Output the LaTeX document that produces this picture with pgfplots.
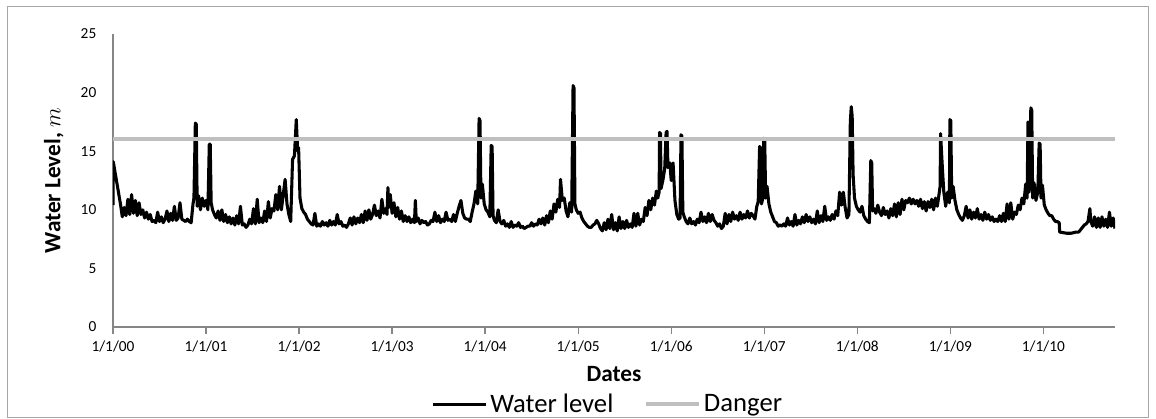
\documentclass[border=0pt]{standalone}
\usepackage{pgfplots}
\pgfplotsset{compat=1.18}
\usepackage{fontspec}
\setmainfont{Carlito}
\usetikzlibrary{calc}
\definecolor{axgray}{HTML}{868686}
\definecolor{dangergray}{HTML}{BFBFBF}
\definecolor{framegray}{HTML}{A6A6A6}

\pgfplotstableread{
yr lvl
0.000 10.4
0.003 14.1
0.08 10.5
0.10 9.4
0.12 10.2
0.14 9.5
0.16 10.9
0.18 9.6
0.20 11.3
0.22 9.7
0.24 10.8
0.26 9.5
0.28 10.6
0.30 9.6
0.32 10.0
0.34 9.3
0.36 9.8
0.38 9.2
0.40 9.6
0.42 9.0
0.44 9.1
0.46 8.9
0.48 9.8
0.50 9.0
0.52 9.4
0.54 8.9
0.56 9.2
0.58 9.9
0.60 9.0
0.62 9.7
0.64 9.1
0.66 10.3
0.68 9.1
0.70 9.3
0.72 10.6
0.74 9.2
0.76 9.1
0.78 9.0
0.80 9.2
0.82 9.0
0.84 8.9
0.86 10.5
0.87 11.0
0.885 17.4
0.895 17.3
0.905 10.3
0.92 11.2
0.94 10.0
0.96 11.0
0.98 10.3
1.00 10.8
1.02 10.0
1.035 15.6
1.045 15.6
1.055 10.6
1.07 10.0
1.09 9.6
1.11 9.3
1.13 9.9
1.15 9.1
1.17 10.0
1.19 9.0
1.21 9.6
1.23 8.9
1.25 9.4
1.27 8.8
1.29 9.3
1.31 8.7
1.33 9.5
1.35 8.8
1.37 10.3
1.39 8.7
1.41 8.8
1.43 8.5
1.45 8.7
1.47 9.2
1.49 8.8
1.51 10.1
1.53 8.8
1.55 10.9
1.57 8.9
1.59 9.3
1.61 8.9
1.63 9.9
1.65 9.0
1.67 10.7
1.69 9.3
1.71 10.1
1.73 9.9
1.75 11.3
1.77 10.0
1.79 12.0
1.81 10.0
1.83 11.3
1.85 12.6
1.87 10.5
1.89 9.6
1.91 9.0
1.93 14.3
1.95 14.6
1.97 17.7
1.985 15.0
1.995 15.3
2.01 11.0
2.03 10.1
2.05 9.8
2.07 9.6
2.09 9.2
2.11 9.0
2.13 8.8
2.15 8.7
2.17 9.7
2.19 8.6
2.21 8.8
2.23 8.6
2.25 9.0
2.27 8.7
2.29 8.9
2.31 8.6
2.33 9.1
2.35 8.7
2.37 9.0
2.39 8.7
2.41 9.6
2.43 8.8
2.45 9.0
2.47 8.6
2.49 8.7
2.51 8.5
2.53 8.8
2.55 9.3
2.57 8.7
2.59 9.4
2.61 8.8
2.63 9.3
2.65 8.9
2.67 9.6
2.69 8.9
2.71 9.9
2.73 9.1
2.75 10.0
2.77 9.2
2.79 9.6
2.81 10.4
2.83 9.5
2.85 9.9
2.87 9.3
2.89 10.9
2.91 9.7
2.93 10.1
2.945 9.6
2.955 11.9
2.965 10.2
2.98 11.3
3.00 9.7
3.02 10.6
3.04 9.4
3.06 10.2
3.08 9.2
3.10 9.9
3.12 9.0
3.14 9.5
3.16 9.0
3.18 9.4
3.20 8.9
3.22 9.2
3.24 8.9
3.25 10.8
3.26 9.0
3.28 9.3
3.30 8.8
3.32 9.1
3.34 8.9
3.36 9.0
3.38 8.7
3.40 8.8
3.42 9.1
3.44 9.0
3.46 9.8
3.48 9.0
3.50 9.5
3.52 8.9
3.54 9.2
3.56 9.0
3.58 9.8
3.60 9.1
3.62 9.2
3.64 9.0
3.66 9.6
3.68 9.0
3.70 9.7
3.72 10.3
3.74 10.8
3.76 9.7
3.78 9.3
3.80 9.2
3.82 9.2
3.84 9.0
3.86 9.8
3.88 10.5
3.90 11.6
3.92 10.5
3.935 17.8
3.945 17.6
3.955 11.0
3.97 12.2
3.99 10.5
4.01 10.0
4.03 9.8
4.05 9.4
4.065 15.5
4.075 15.4
4.085 9.5
4.10 9.1
4.12 8.9
4.14 10.0
4.16 9.0
4.18 8.8
4.20 9.1
4.22 8.6
4.24 8.8
4.26 8.5
4.28 9.0
4.30 8.5
4.32 8.7
4.34 8.6
4.36 8.9
4.38 8.5
4.40 8.6
4.42 8.4
4.44 8.5
4.46 8.6
4.48 8.6
4.50 8.9
4.52 8.6
4.54 8.8
4.56 8.7
4.58 9.2
4.60 8.8
4.62 9.3
4.64 8.7
4.66 9.5
4.68 8.9
4.70 9.9
4.72 9.2
4.74 10.5
4.76 9.8
4.78 10.9
4.80 10.2
4.81 12.6
4.83 10.8
4.85 11.0
4.87 9.9
4.89 9.4
4.91 10.6
4.93 9.8
4.945 20.6
4.955 20.4
4.965 10.5
4.98 10.0
5.00 9.7
5.02 9.8
5.04 9.3
5.06 9.0
5.08 8.8
5.10 8.6
5.12 8.5
5.14 8.5
5.16 8.7
5.18 8.8
5.20 9.1
5.22 8.8
5.24 8.4
5.26 8.2
5.28 8.9
5.30 8.3
5.32 9.2
5.34 8.4
5.36 9.6
5.38 8.3
5.40 8.9
5.42 8.2
5.44 9.4
5.46 8.4
5.48 9.0
5.50 8.4
5.52 9.1
5.54 8.5
5.56 8.8
5.58 8.5
5.60 9.7
5.62 8.6
5.64 9.7
5.66 8.7
5.68 9.2
5.70 9.0
5.72 10.2
5.74 9.5
5.76 10.8
5.78 10.0
5.80 11.0
5.82 10.4
5.84 11.6
5.855 11.0
5.87 11.5
5.875 16.6
5.885 16.5
5.89 11.8
5.91 12.5
5.93 13.5
5.945 16.6
5.955 16.7
5.965 13.6
5.985 14.0
6.00 12.5
6.02 14.0
6.04 10.8
6.06 9.6
6.08 9.2
6.095 9.3
6.105 16.4
6.115 16.3
6.125 9.8
6.14 9.4
6.16 9.0
6.18 8.8
6.20 9.3
6.22 8.8
6.24 9.0
6.26 8.7
6.28 9.2
6.30 8.9
6.32 9.8
6.34 9.0
6.36 9.4
6.38 8.9
6.40 9.7
6.42 9.0
6.44 9.6
6.46 9.1
6.48 8.9
6.50 8.6
6.52 8.8
6.54 8.4
6.56 8.6
6.58 9.7
6.60 8.8
6.62 9.6
6.64 9.0
6.66 9.8
6.68 9.2
6.70 9.5
6.72 9.1
6.74 9.8
6.76 9.2
6.78 9.6
6.80 9.3
6.82 9.9
6.84 9.3
6.86 9.7
6.88 9.5
6.90 9.2
6.92 10.3
6.935 10.7
6.95 15.4
6.96 15.3
6.97 10.5
6.985 11.0
6.995 16.1
7.005 16.0
7.015 11.0
7.03 12.0
7.05 10.5
7.07 9.8
7.09 9.4
7.11 9.0
7.13 8.9
7.15 8.6
7.17 8.7
7.19 8.6
7.21 8.8
7.23 8.6
7.25 9.3
7.27 8.7
7.29 9.0
7.31 8.6
7.33 9.6
7.35 8.7
7.37 9.1
7.39 8.8
7.41 9.4
7.43 8.9
7.45 9.6
7.47 9.0
7.49 9.4
7.51 8.9
7.53 9.2
7.55 8.8
7.57 9.9
7.59 8.9
7.61 9.5
7.63 9.0
7.65 10.3
7.67 9.1
7.69 9.4
7.71 9.1
7.73 9.6
7.75 9.2
7.77 9.9
7.79 9.5
7.81 11.5
7.83 10.4
7.85 11.5
7.87 10.2
7.89 9.3
7.91 9.6
7.925 17.5
7.935 18.8
7.945 18.0
7.955 13.0
7.97 11.0
7.99 10.3
8.01 10.0
8.03 9.8
8.05 10.3
8.07 9.5
8.09 9.2
8.11 9.0
8.13 8.9
8.145 14.2
8.155 14.0
8.165 9.9
8.18 10.1
8.20 9.7
8.22 10.4
8.24 9.8
8.26 9.5
8.28 10.2
8.30 9.6
8.32 9.9
8.34 9.3
8.36 10.1
8.38 9.5
8.40 10.5
8.42 9.4
8.44 10.6
8.46 9.6
8.48 10.9
8.50 10.0
8.52 10.8
8.54 10.6
8.56 11.0
8.58 10.5
8.60 10.9
8.62 10.5
8.64 10.8
8.66 10.3
8.68 10.9
8.70 10.1
8.72 10.7
8.74 9.9
8.76 10.7
8.78 10.2
8.80 10.9
8.82 10.0
8.84 11.0
8.86 10.3
8.88 11.4
8.89 12.0
8.895 16.5
8.905 15.0
8.915 13.5
8.93 11.5
8.95 10.3
8.97 11.5
8.99 10.6
8.995 17.7
9.005 17.6
9.015 11.0
9.03 12.0
9.05 10.8
9.07 10.0
9.09 9.6
9.11 9.3
9.13 9.1
9.15 9.5
9.17 10.3
9.19 9.3
9.21 10.0
9.23 9.2
9.25 9.8
9.27 9.3
9.29 10.1
9.31 9.2
9.33 9.6
9.35 9.1
9.37 9.8
9.39 9.2
9.41 9.6
9.43 9.1
9.45 9.4
9.47 9.0
9.49 9.2
9.51 9.0
9.53 9.5
9.55 9.0
9.57 9.7
9.59 9.0
9.61 10.5
9.63 9.2
9.65 10.6
9.67 9.2
9.69 9.8
9.71 9.6
9.73 10.4
9.75 10.0
9.77 11.0
9.79 10.5
9.81 12.2
9.825 11.0
9.835 17.5
9.845 11.5
9.855 12.0
9.865 18.7
9.875 18.5
9.885 11.0
9.90 12.3
9.92 10.8
9.94 11.5
9.955 15.7
9.965 15.6
9.975 11.0
9.99 12.1
10.01 10.4
10.03 10.0
10.05 9.7
10.07 9.5
10.09 9.5
10.11 9.2
10.13 9.0
10.15 9.0
10.17 8.9
10.175 8.1
10.25 8.0
10.30 8.0
10.35 8.1
10.38 8.1
10.40 8.3
10.42 8.5
10.44 8.7
10.46 8.8
10.48 9.0
10.50 10.1
10.51 9.0
10.53 8.6
10.55 9.4
10.57 8.5
10.59 9.3
10.61 8.5
10.63 9.4
10.65 8.6
10.67 9.2
10.69 8.5
10.71 9.8
10.73 8.6
10.75 9.3
10.77 8.4
}\waterlevel

\begin{document}
\begin{tikzpicture}
\begin{axis}[name=ax,scale only axis,width=751.5pt,height=219.75pt,
  xmin=0,xmax=10.77,ymin=0,ymax=25,
  axis x line=bottom,axis y line=left,
  axis line style={-,axgray,line width=1.2pt},
  xtick={0,1,2,3,4,5,6,7,8,9,10},
  xticklabels={1/1/00,1/1/01,1/1/02,1/1/03,1/1/04,1/1/05,1/1/06,1/1/07,1/1/08,1/1/09,1/1/10},
  ytick={0,5,10,15,20,25},
  tick align=outside,
  xtick style={axgray,line width=1pt},major tick length=5pt,
  ytick style={draw=none},
  /pgf/number format/assume math mode=true,
  tick label style={font=\fontsize{11.5}{13}\selectfont},
  yticklabel style={xshift=-4pt},
  xticklabel style={yshift=-2pt},
  xlabel={\textbf{Dates}},
  xlabel style={font=\fontsize{17.5}{19}\selectfont,at={(axis description cs:0.5,-0.16)},anchor=center},
  ylabel={\textbf{Water Level,} $m$},
  ylabel style={font=\fontsize{17.5}{19}\selectfont,at={(axis description cs:-0.059,0.5)},anchor=center},
  legend columns=2,
  legend style={draw=none,fill=none,font=\fontsize{20}{22}\selectfont,
    at={(0.494,-0.263)},anchor=center,
    /tikz/every even column/.append style={column sep=21pt}},
  legend image code/.code={\draw[#1] (0pt,0pt) -- (40pt,0pt);},
  ]
\addplot[black,line width=2.3pt,line join=round] table[x=yr,y=lvl] {\waterlevel};
\addplot[dangergray,line width=3pt] coordinates {(0,16) (10.77,16)};
\legend{Water level,Danger}
\end{axis}
\draw[framegray,line width=0.75pt] ($(ax.south west)+(-78.75pt,-67.5pt)$) rectangle ($(ax.north east)+(24.75pt,20.25pt)$);
\pgfresetboundingbox
\path[use as bounding box] ($(ax.south west)+(-84.75pt,-68.25pt)$) rectangle ($(ax.north east)+(30.75pt,25.5pt)$);
\end{tikzpicture}
\end{document}
